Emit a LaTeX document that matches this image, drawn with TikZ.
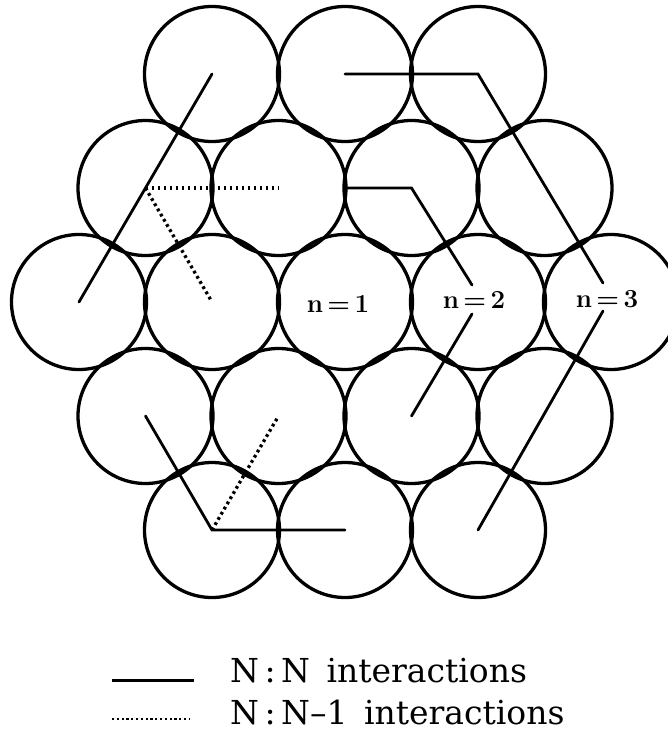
\documentclass[tikz,border=0pt]{standalone}
\usepackage{fontspec}
\newfontfamily\legfont{DejaVu Serif}
\begin{document}
\begin{tikzpicture}[x=1pt,y=-1pt,
  ball/.style={circle,draw,line width=3.3pt,minimum size=135pt,inner sep=0pt},
  nnline/.style={line width=2.8pt,line cap=round,line join=miter},
  nmline/.style={line width=3.3pt,dash pattern=on 2.8pt off 3.2pt},
  lab/.style={font=\bfseries\fontsize{26}{26}\selectfont,inner sep=0pt},
  leg/.style={font=\legfont\fontsize{33}{33}\selectfont,anchor=base west,inner sep=0pt}]
\useasboundingbox (0,0) rectangle (668,742);
% row 1
\node[ball] (c11) at (212,74) {};
\node[ball] (c12) at (345,74) {};
\node[ball] (c13) at (478,74) {};
% row 2
\node[ball] (c21) at (145.5,188) {};
\node[ball] (c22) at (278.5,188) {};
\node[ball] (c23) at (411.5,188) {};
\node[ball] (c24) at (544.5,188) {};
% row 3
\node[ball] (c31) at (79,302) {};
\node[ball] (c32) at (212,302) {};
\node[ball] (c33) at (345,302) {};
\node[ball] (c34) at (478,302) {};
\node[ball] (c35) at (611,302) {};
% row 4
\node[ball] (c41) at (145.5,416) {};
\node[ball] (c42) at (278.5,416) {};
\node[ball] (c43) at (411.5,416) {};
\node[ball] (c44) at (544.5,416) {};
% row 5
\node[ball] (c51) at (212,530) {};
\node[ball] (c52) at (345,530) {};
\node[ball] (c53) at (478,530) {};
% labels
\node[lab] (t1) at (338,304) {n\,=\,1};
\node[lab] (t2) at (474,300) {n\,=\,2};
\node[lab] (t3) at (607,299) {n\,=\,3};
% free ends near labels
\coordinate (mid23) at (345,188);
\coordinate (e2a) at (472,285);
\coordinate (e2b) at (472,314);
\coordinate (e3a) at (603,283);
\coordinate (e3b) at (603,311);
% N:N interactions
\draw[nnline] (c11.center) -- (c31.center);
\draw[nnline] (c12.center) -- (c13.center) -- (e3a);
\draw[nnline] (mid23) -- (c23.center) -- (e2a);
\draw[nnline] (e2b) -- (c43.center);
\draw[nnline] (e3b) -- (c53.center);
\draw[nnline] (c41.center) -- (c51.center) -- (c52.center);
% N:N-1 interactions
\draw[nmline] (c21.center) -- (c22.center);
\draw[nmline] (c21.center) -- (c32.center);
\draw[nmline] (c51.center) -- (c42.center);
% legend
\coordinate (l1a) at (112,680);
\coordinate (l1b) at (194,680);
\coordinate (l2a) at (112,719);
\coordinate (l2b) at (190,719);
\draw[line width=3pt] (l1a) -- (l1b);
\draw[line width=2.4pt,dash pattern=on 2.2pt off 2.6pt] (l2a) -- (l2b);
\node[leg] (leg1) at (230,682) {N\,:\,N\hspace{0.5em}interactions};
\node[leg] (leg2) at (230,724) {N\,:\,N–1\hspace{0.5em}interactions};
\end{tikzpicture}
\end{document}
